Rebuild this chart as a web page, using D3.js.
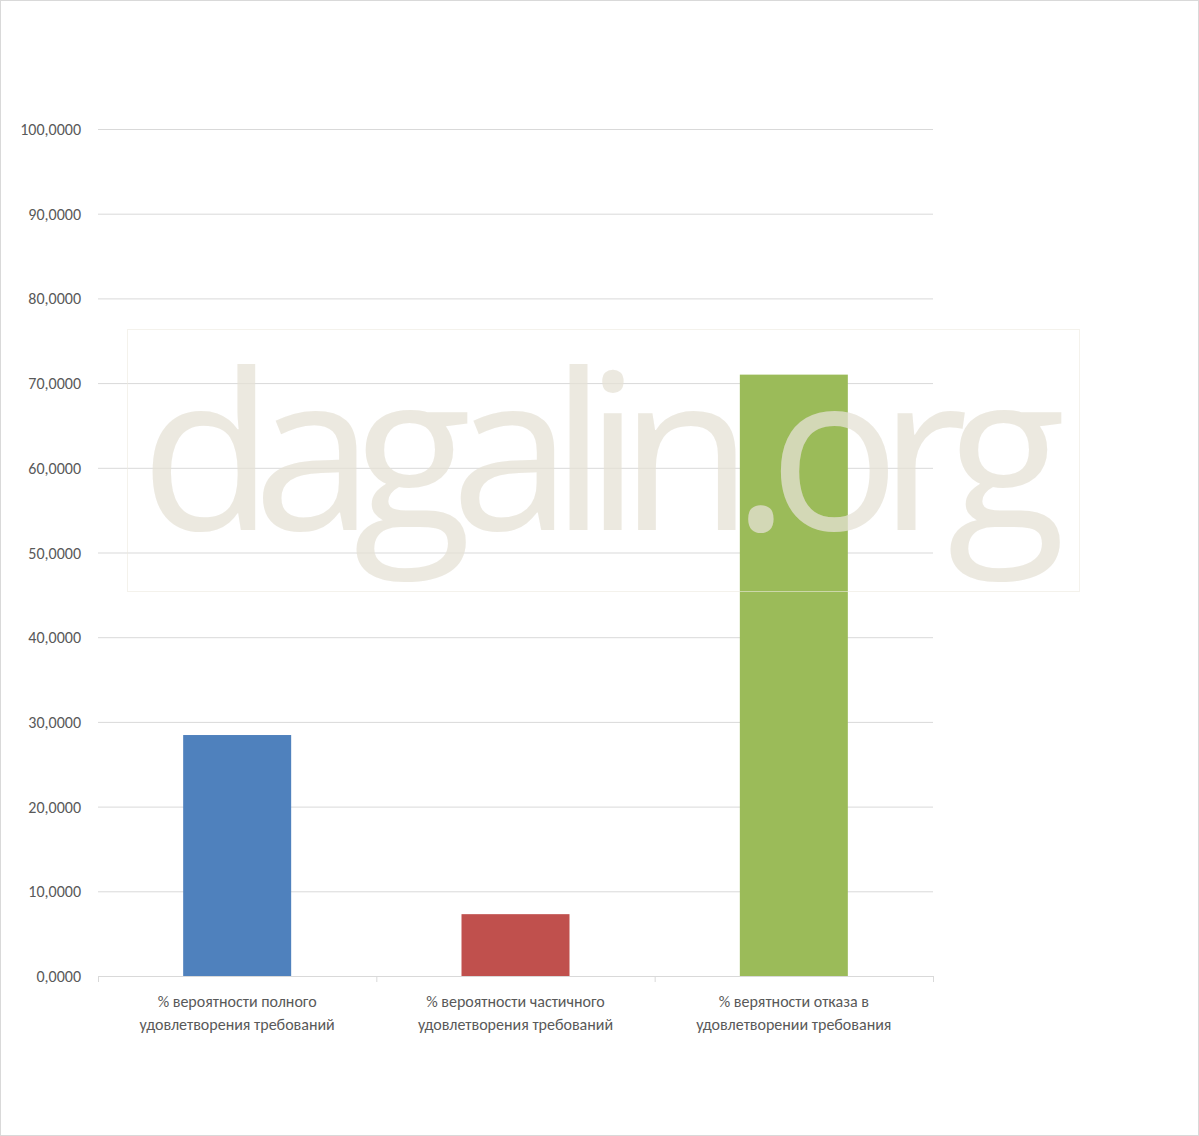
<!DOCTYPE html>
<html><head><meta charset="utf-8">
<script src="https://cdn.jsdelivr.net/npm/d3@7"></script>
<style>body{margin:0;background:#fff}svg{display:block}</style>
</head><body>
<script>
const categories = [
  ["% вероятности полного", "удовлетворения требований"],
  ["% вероятности частичного", "удовлетворения требований"],
  ["% верятности отказа в", "удовлетворении требования"]
];
const values = [28.45, 7.3, 71.0];
const colors = ["#4f81bd", "#c0504d", "#9bbb59"];
const ticks = [0,10,20,30,40,50,60,70,80,90,100];

const W=1199,H=1136;
const svg=d3.select("body").append("svg").attr("width",W).attr("height",H);
svg.append("rect").attr("x",0.5).attr("y",0.5).attr("width",W-1).attr("height",H-1).attr("fill","#fff").attr("stroke","#d9d9d9");
const L=98,R=933,T=129,B=976;
const y=d3.scaleLinear().domain([0,100]).range([B,T]);
const x=d3.scaleBand().domain(d3.range(3)).range([L,R]).paddingInner(0).paddingOuter(0);
const fmt=v=>d3.format(".4f")(v).replace(".",",");
svg.selectAll(".g").data(ticks.filter(t=>t>0)).join("line").attr("x1",L).attr("x2",R)
  .attr("y1",d=>y(d)+0.5).attr("y2",d=>y(d)+0.5).attr("stroke","#d9d9d9");
svg.selectAll(".tl").data(ticks).join("text").attr("x",81).attr("y",d=>y(d)+6)
  .attr("text-anchor","end").attr("font-family","Calibri, Carlito, 'Liberation Sans', Arial").attr("font-size",16)
  .attr("fill","#595959").text(fmt);
const bw=108;
svg.selectAll(".b").data(values).join("rect")
  .attr("x",(d,i)=>x(i)+x.bandwidth()/2-bw/2).attr("width",bw)
  .attr("y",d=>y(d)).attr("height",d=>B-y(d)).attr("fill",(d,i)=>colors[i]);
svg.append("line").attr("x1",L).attr("x2",R).attr("y1",B+0.5).attr("y2",B+0.5).attr("stroke","#d9d9d9");
[0,1,2,3].forEach(i=>{const xx=i<3?x(i):R;svg.append("line").attr("x1",xx+0.5).attr("x2",xx+0.5).attr("y1",B).attr("y2",B+6).attr("stroke","#d9d9d9");});
categories.forEach((c,i)=>{
  const t=svg.append("text").attr("text-anchor","middle").attr("font-family","Calibri, Carlito, 'Liberation Sans', Arial")
    .attr("font-size",16).attr("fill","#595959");
  c.forEach((s,j)=>t.append("tspan").attr("x",x(i)+x.bandwidth()/2).attr("y",1007+j*23).text(s));
});
// watermark
svg.append("rect").attr("x",127.5).attr("y",329.5).attr("width",952).attr("height",262)
  .attr("fill","none").attr("stroke","#ece9e0").attr("stroke-opacity",0.6);
svg.append("text").attr("x",603).attr("y",530).attr("text-anchor","middle")
  .attr("font-family","'Open Sans', 'DejaVu Sans', sans-serif").attr("font-size",218)
  .attr("fill","#e6e2d6").attr("fill-opacity",0.75).attr("textLength",925).text("dagalin.org");
</script>
</body></html>
